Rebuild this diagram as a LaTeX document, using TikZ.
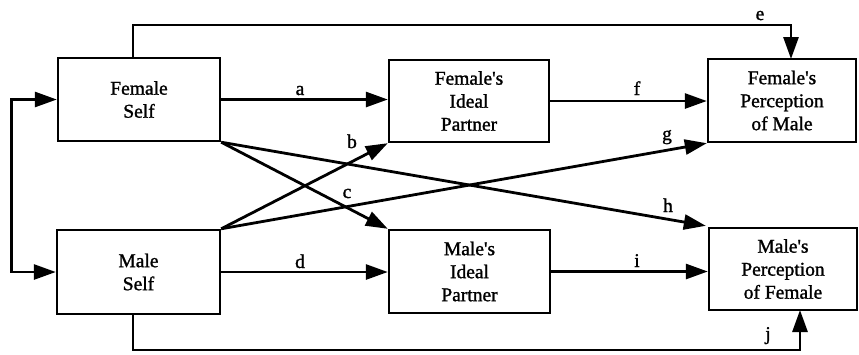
\documentclass[tikz,border=0pt]{standalone}
\usepackage{fontspec}
\setmainfont[BoldFont={Liberation Serif},BoldFeatures={FakeBold=1.3}]{Liberation Serif}
\usetikzlibrary{arrows.meta,calc}
\newcommand{\apos}{\textquotesingle}
\begin{document}
\begin{tikzpicture}[x=1pt,y=-1pt,
  line width=2.8pt,
  box/.style={draw,rectangle,inner sep=0pt,align=center,line width=2.4pt,
    font=\fontsize{19.5}{23}\selectfont\bfseries},
  lab/.style={inner sep=0pt,anchor=base,font=\fontsize{19.5}{23}\selectfont\bfseries},
  arr/.style={-{Triangle[length=22pt,width=15pt]}},
  both/.style={{Triangle[length=22pt,width=15pt]}-{Triangle[length=22pt,width=15pt]}}]
\useasboundingbox (0,0) rectangle (859,354);

% boxes
\node[box,minimum width=162pt,minimum height=83pt] (FS) at (139,99.5) {Female\\Self};
\node[box,minimum width=160pt,minimum height=82pt] (FI) at (469,101) {Female\apos s\\Ideal\\Partner};
\node[box,minimum width=148pt,minimum height=83pt] (FP) at (782,100.5) {Female\apos s\\Perception\\of Male};
\node[box,minimum width=163pt,minimum height=84pt] (MS) at (138.5,272) {Male\\Self};
\node[box,minimum width=161pt,minimum height=83pt] (MI) at (469.5,271.5) {Male\apos s\\Ideal\\Partner};
\node[box,minimum width=148pt,minimum height=82pt] (MP) at (783,269) {Male\apos s\\Perception\\of Female};

% helper points on box edges
\coordinate (eS) at (133,58);
\coordinate (eE) at (791,59);
\coordinate (jS) at (133,314);
\coordinate (jE) at (800,310);

% connectors
\draw[both] (FS.west) -- ++(-45,0) |- (MS.west);
\draw[arr] (FS.east) -- (FS.east -| FI.west);
\draw[arr] (FI.east) -- (FI.east -| FP.west);
\draw[arr] (MS.east) -- (MS.east -| MI.west);
\draw[arr] (MI.east) -- (MI.east -| MP.west);
\draw[arr] (MS.north east) -- (FI.south west);
\draw[arr] (MS.north east) -- (FP.south west);
\draw[arr] (FS.south east) -- (MI.north west);
\draw[arr] (FS.south east) -- ($(MP.north west)+(-2,-1)$);
\draw[arr] (eS) -- (133,25) -| (eE);
\draw[arr] (jS) -- (133,350) -| (jE);

% path labels
\node[lab] (la) at (300,95) {a};
\node[lab] (lb) at (352,148) {b};
\node[lab] (lc) at (347,198) {c};
\node[lab] (ld) at (300,268) {d};
\node[lab] (le) at (760,20) {e};
\node[lab] (lf) at (637,95) {f};
\node[lab] (lg) at (667,140) {g};
\node[lab] (lh) at (668,212) {h};
\node[lab] (li) at (637,267) {i};
\node[lab] (lj) at (768,340) {j};
\end{tikzpicture}
\end{document}
